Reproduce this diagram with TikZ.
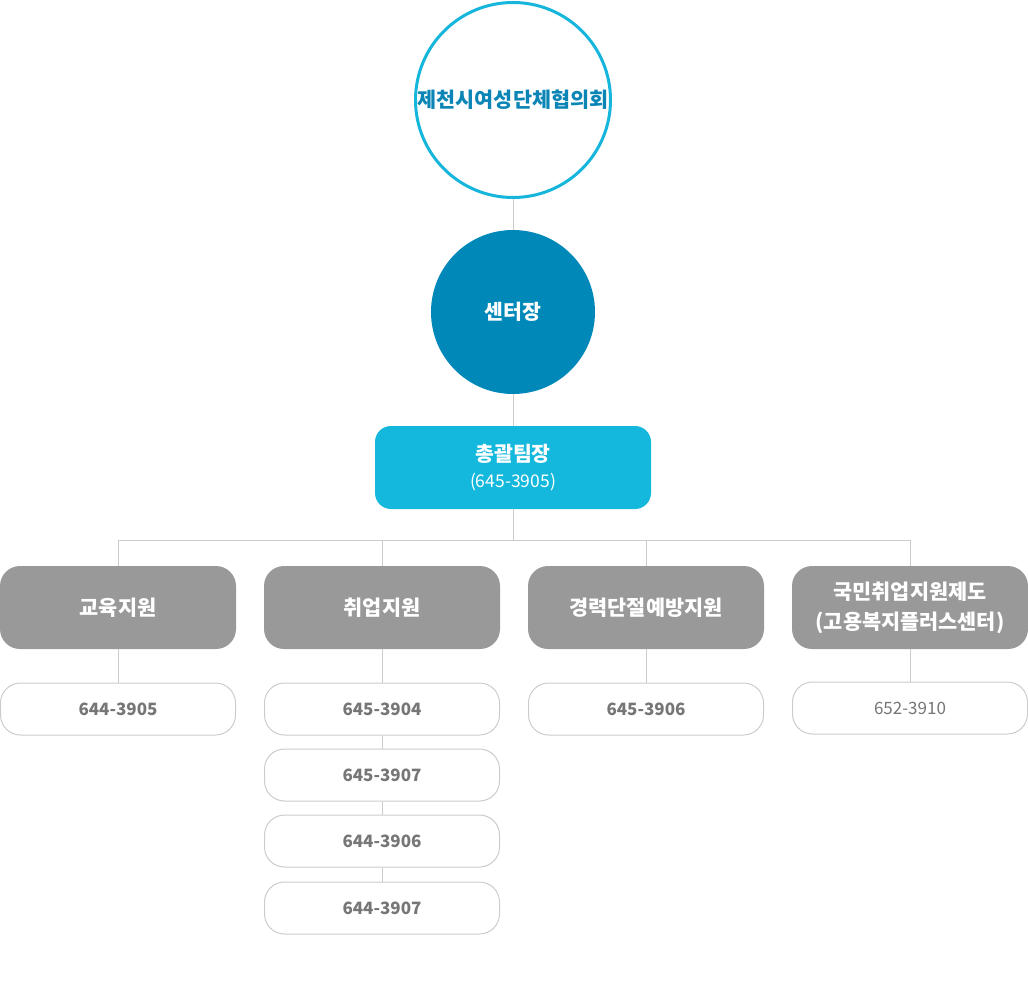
\documentclass[tikz,border=0pt]{standalone}
\usepackage{fontspec}
\setmainfont{Noto Sans CJK KR}
\definecolor{cyanline}{HTML}{16B5DC}
\definecolor{titleblue}{HTML}{0B85B6}
\definecolor{headblue}{HTML}{0088B9}
\definecolor{leadcyan}{HTML}{14B8DC}
\definecolor{boxgray}{HTML}{999999}
\definecolor{linegray}{HTML}{CCCCCC}
\definecolor{textgray}{HTML}{767676}
\tikzset{
  conn/.style={draw=linegray, line width=1pt},
  deptbox/.style={fill=boxgray, rounded corners=20pt, minimum width=236pt, minimum height=83pt, inner sep=0pt, text=white, font=\bfseries\fontsize{20.8}{30}\selectfont, align=center},
  phonebox/.style={draw=linegray, line width=1pt, fill=white, rounded corners=20pt, minimum width=235pt, minimum height=52pt, inner sep=0pt, text=textgray, font=\bfseries\fontsize{17}{20}\selectfont},
}
\begin{document}
\begin{tikzpicture}[x=1pt,y=-1pt]
\useasboundingbox (0,0) rectangle (1028,1001);
% top
\node[circle, draw=cyanline, line width=3pt, fill=white, minimum size=195pt, inner sep=0pt, text=titleblue, font=\bfseries\fontsize{20.7}{24}\selectfont] (council) at (513,100) {제천시여성단체협의회};
\node[circle, fill=headblue, minimum size=164pt, inner sep=0pt, text=white, font=\bfseries\fontsize{20.5}{24}\selectfont] (head) at (513,312) {센터장};
\node[fill=leadcyan, rounded corners=16pt, minimum width=276pt, minimum height=83pt, inner sep=0pt, text=white, align=center, font=\fontsize{17.5}{26}\selectfont] (lead) at (513,467.5) {{\bfseries\fontsize{20.5}{26}\selectfont 총괄팀장}\\(645-3905)};
% departments
\node[deptbox] (d1) at (118,607.5) {교육지원};
\node[deptbox] (d2) at (382,607.5) {취업지원};
\node[deptbox] (d3) at (646,607.5) {경력단절예방지원};
\node[deptbox] (d4) at (910,607.5) {국민취업지원제도\\(고용복지플러스센터)};
% phones
\node[phonebox] (p1) at (118,709) {644-3905};
\node[phonebox] (p2a) at (382,709) {645-3904};
\node[phonebox] (p2b) at (382,775) {645-3907};
\node[phonebox] (p2c) at (382,841) {644-3906};
\node[phonebox] (p2d) at (382,908) {644-3907};
\node[phonebox] (p3) at (646,709) {645-3906};
\node[phonebox, font=\fontsize{17}{20}\selectfont] (p4) at (910,708) {652-3910};
% connectors
\coordinate (bus) at (513,540);
\coordinate (busL) at (118,540);
\coordinate (busR) at (910,540);
\draw[conn] (council.south) -- (head.north);
\draw[conn] (head.south) -- (lead.north);
\draw[conn] (lead.south) -- (bus);
\draw[conn] (busL) -- (busR);
\draw[conn] (busL) -- (d1.north);
\draw[conn] (d2.north |- bus) -- (d2.north);
\draw[conn] (d3.north |- bus) -- (d3.north);
\draw[conn] (busR) -- (d4.north);
\draw[conn] (d1.south) -- (p1.north);
\draw[conn] (d2.south) -- (p2a.north);
\draw[conn] (p2a.south) -- (p2b.north);
\draw[conn] (p2b.south) -- (p2c.north);
\draw[conn] (p2c.south) -- (p2d.north);
\draw[conn] (d3.south) -- (p3.north);
\draw[conn] (d4.south) -- (p4.north);
\end{tikzpicture}
\end{document}
